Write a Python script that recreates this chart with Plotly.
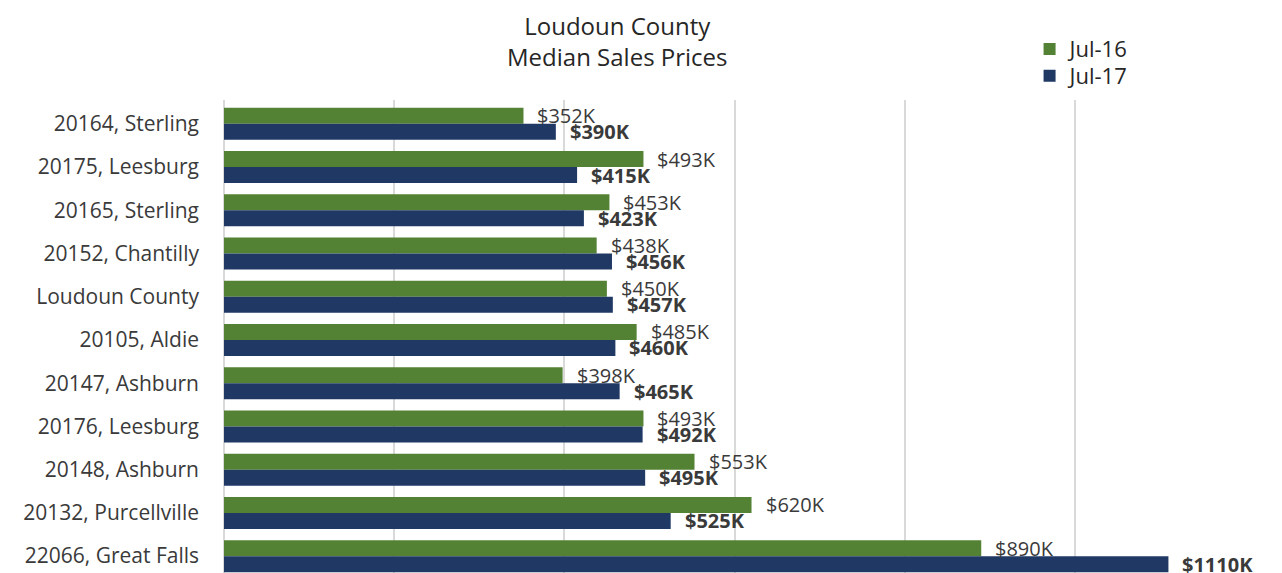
import plotly.graph_objects as go

categories = ["20164, Sterling", "20175, Leesburg", "20165, Sterling", "20152, Chantilly",
              "Loudoun County", "20105, Aldie", "20147, Ashburn", "20176, Leesburg",
              "20148, Ashburn", "20132, Purcellville", "22066, Great Falls"]
jul16 = [352, 493, 453, 438, 450, 485, 398, 493, 553, 620, 890]
jul17 = [390, 415, 423, 456, 457, 460, 465, 492, 495, 525, 1110]
series_names = ["Jul-16", "Jul-17"]
title_text = "Loudoun County<br>Median Sales Prices"

GREEN = "#548235"
BLUE = "#1F3864"
FONT = "Open Sans, sans-serif"
TXT = "#3A3A3A"

fig = go.Figure()
fig.add_trace(go.Bar(y=categories, x=jul16, name=series_names[0], orientation="h",
                     marker=dict(color=GREEN, line=dict(width=0)), legend="legend"))
fig.add_trace(go.Bar(y=categories, x=jul17, name=series_names[1], orientation="h",
                     marker=dict(color=BLUE, line=dict(width=0)), legend="legend2"))

anns = []
for c, v in zip(categories, jul16):
    anns.append(dict(x=v, y=c, xref="x", yref="y", text=f"${v}K", showarrow=False,
                     xanchor="left", yanchor="middle", xshift=12, yshift=8,
                     font=dict(family=FONT, size=20, color=TXT)))
for c, v in zip(categories, jul17):
    anns.append(dict(x=v, y=c, xref="x", yref="y", text=f"<b>${v}K</b>", showarrow=False,
                     xanchor="left", yanchor="middle", xshift=12, yshift=-8,
                     font=dict(family=FONT, size=20, color=TXT)))
anns.append(dict(x=0.385, y=1.196, xref="paper", yref="paper", text=title_text, showarrow=False,
                 xanchor="center", yanchor="top",
                 font=dict(family=FONT, size=24, color="#262626")))

leg_common = dict(xanchor="left", yanchor="top", itemwidth=30, bgcolor="rgba(0,0,0,0)",
                  font=dict(family=FONT, size=22, color="#262626"))

fig.update_layout(
    width=1274, height=565,
    margin=dict(l=216, r=37, t=92, b=0, autoexpand=False),
    paper_bgcolor="white", plot_bgcolor="white",
    barmode="group", bargap=0.26, bargroupgap=0,
    font=dict(family=FONT, size=20, color=TXT),
    showlegend=True,
    legend=dict(x=0.789, y=1.152, **leg_common),
    legend2=dict(x=0.789, y=1.095, **leg_common),
    annotations=anns,
)
fig.update_xaxes(range=[0, 1200], dtick=200, showgrid=True, gridcolor="#D9D9D9", gridwidth=1.5,
                 showticklabels=False, zeroline=True, zerolinecolor="#D9D9D9", zerolinewidth=1.5,
                 showline=False)
fig.update_yaxes(categoryorder="array", categoryarray=categories, range=[10.39, -0.55],
                 showgrid=False, showline=False, ticks="", ticklabelstandoff=24,
                 tickfont=dict(family=FONT, size=21, color=TXT))

fig.write_html("out.html")
